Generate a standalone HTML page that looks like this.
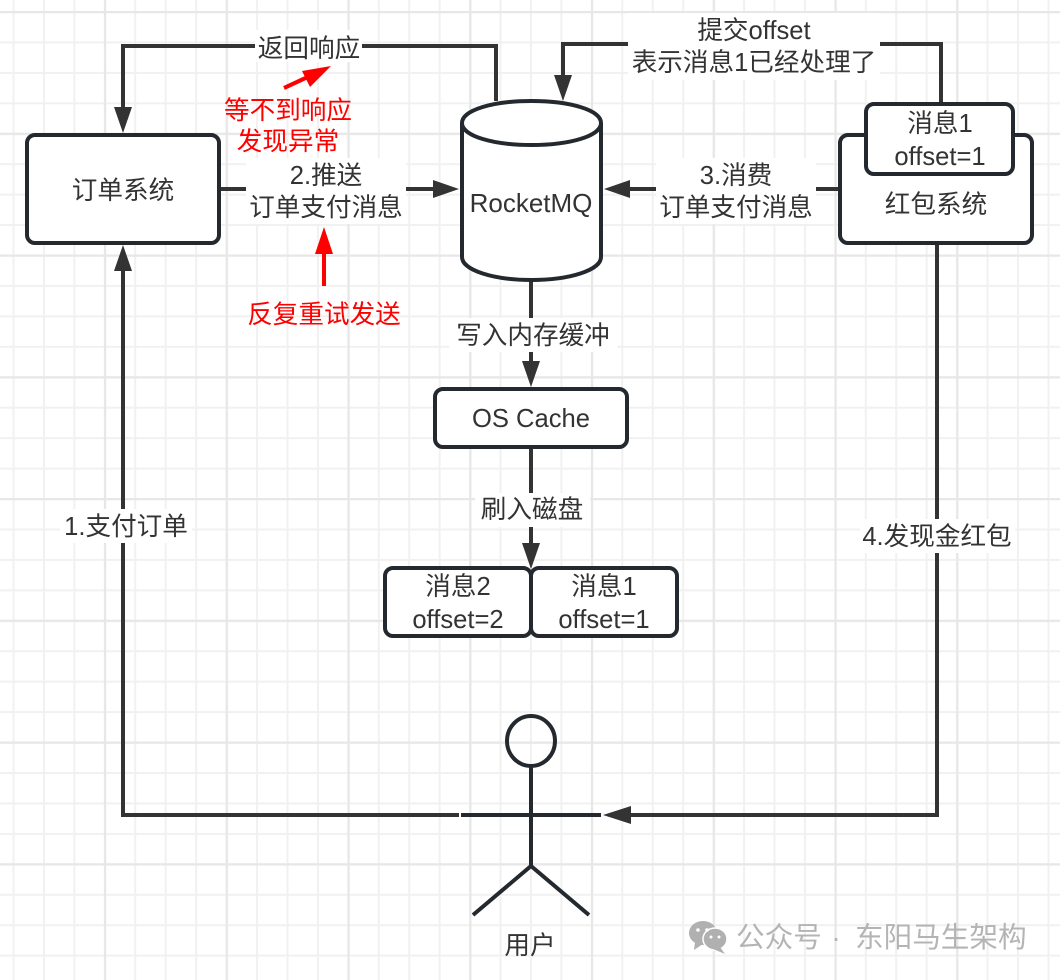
<!DOCTYPE html>
<html lang="zh"><head><meta charset="utf-8"><title>RocketMQ</title>
<style>
html,body{margin:0;padding:0;background:#fff}
svg{display:block}
text{font-family:"Liberation Sans","Noto Sans CJK SC",sans-serif;font-size:25.6px;fill:#333;text-anchor:middle}
.r{fill:#f00}
.b{fill:#fff;stroke:#23292e;stroke-width:4}
.l{fill:none;stroke:#333;stroke-width:4}
.w{fill:#fff;stroke:none}
.h{fill:#333;stroke:none}
.a{fill:none;stroke:#23292e;stroke-width:4}
</style></head><body>
<svg width="1060" height="980" viewBox="0 0 1060 980" xmlns="http://www.w3.org/2000/svg">
<defs>
<pattern id="m" x="12.5" y="11" width="30.44" height="30.44" patternUnits="userSpaceOnUse"><path d="M1 0V30.44M0 1H30.44" fill="none" stroke="#f1f1f1" stroke-width="2"/></pattern>
<pattern id="g" x="104" y="11" width="121.75" height="121.75" patternUnits="userSpaceOnUse"><path d="M1 0V121.75M0 1H121.75" fill="none" stroke="#e7e7e7" stroke-width="2.400"/></pattern>
</defs>
<rect width="1060" height="980" fill="#fff"/>
<rect width="1060" height="980" fill="url(#m)"/>
<rect width="1060" height="980" fill="url(#g)"/>

<!-- connectors -->
<path class="l" d="M496 101V46H123V110"/>
<polygon class="h" points="114,107 132,107 123,133"/>
<path class="l" d="M941 104V44H563V78"/>
<polygon class="h" points="554,75 572,75 563,101"/>
<path class="l" d="M221 189H436"/>
<polygon class="h" points="433,180 433,198 459,189"/>
<path class="l" d="M839 189H628"/>
<polygon class="h" points="630,180 630,198 604,189"/>
<path class="l" d="M531 281V364"/>
<polygon class="h" points="522,361 540,361 531,387"/>
<path class="l" d="M531 447V546"/>
<polygon class="h" points="522,543 540,543 531,569"/>
<path class="l" d="M459 815H123V268"/>
<polygon class="h" points="114,271 132,271 123,245"/>
<path class="l" d="M937 243V815H628"/>
<polygon class="h" points="631,806 631,824 603,815"/>

<!-- label backgrounds -->
<rect class="w" x="255" y="30" width="107" height="32"/>
<rect class="w" x="628" y="13" width="252" height="67"/>
<rect class="w" x="246" y="158" width="160" height="66"/>
<rect class="w" x="656" y="158" width="160" height="66"/>
<rect class="w" x="449" y="318" width="168" height="34"/>
<rect class="w" x="475" y="493" width="115" height="34"/>
<rect class="w" x="60" y="509" width="132" height="34"/>
<rect class="w" x="860" y="519" width="155" height="34"/>

<!-- nodes -->
<rect class="b" x="27" y="135" width="192" height="108" rx="8"/>
<path class="b" d="M462 123C462 110 493 101 531.500 101C570 101 601 110 601 123V257C601 270 570 280 531.500 280C493 280 462 270 462 257Z"/>
<path class="a" d="M462 123C462 136 493 145 531.500 145C570 145 601 136 601 123"/>
<rect class="b" x="840" y="135" width="192" height="108" rx="8"/>
<rect class="b" x="866" y="104" width="147" height="70" rx="8"/>
<rect class="b" x="435" y="389" width="192" height="58" rx="8"/>
<rect class="b" x="385" y="568" width="146" height="68" rx="8"/>
<rect class="b" x="531" y="568" width="146" height="68" rx="8"/>

<!-- actor -->
<ellipse class="a" cx="531" cy="741" rx="24" ry="25" fill="#fff"/>
<path class="a" d="M531 766V866M461 815H601M473 915L531 866L589 915"/>
<rect x="459" y="812" width="2" height="6" fill="#fff"/>

<!-- red arrows -->
<path d="M284 88L312 75" fill="none" stroke="#f00" stroke-width="4"/>
<polygon points="331,66 302,71 310,87" fill="#f00"/>
<path d="M324 286V250" fill="none" stroke="#f00" stroke-width="4"/>
<polygon points="315,254 333,254 324,227" fill="#f00"/>

<!-- text -->
<text x="309" y="57">返回响应</text>
<text x="754" y="39">提交offset</text>
<text x="754" y="71">表示消息1已经处理了</text>
<text x="326" y="184">2.推送</text>
<text x="326" y="216">订单支付消息</text>
<text x="736" y="184">3.消费</text>
<text x="736" y="216">订单支付消息</text>
<text x="123" y="199">订单系统</text>
<text x="531" y="212" style="font-size:26px">RocketMQ</text>
<text x="936" y="213">红包系统</text>
<text x="940" y="132">消息1</text>
<text x="940" y="165">offset=1</text>
<text x="533" y="344">写入内存缓冲</text>
<text x="531" y="427">OS Cache</text>
<text x="532" y="518">刷入磁盘</text>
<text x="458" y="595">消息2</text>
<text x="458" y="628">offset=2</text>
<text x="604" y="595">消息1</text>
<text x="604" y="628">offset=1</text>
<text x="126" y="535">1.支付订单</text>
<text x="937" y="545">4.发现金红包</text>
<text x="530" y="954">用户</text>
<text class="r" x="288" y="119">等不到响应</text>
<text class="r" x="288" y="150">发现异常</text>
<text class="r" x="324" y="323">反复重试发送</text>

<!-- watermark -->
<g fill="#b0b0b0">
<ellipse cx="703" cy="933" rx="14" ry="12"/>
<polygon points="695,942 694,950 703,944"/>
<ellipse cx="715" cy="939" rx="12" ry="11" stroke="#fff" stroke-width="1.500"/>
<polygon points="720,947 725,954 713,949"/>
</g>
<g fill="#fff"><circle cx="698" cy="930" r="1.800"/><circle cx="707" cy="930" r="1.800"/><circle cx="711" cy="937" r="1.500"/><circle cx="719" cy="937" r="1.500"/></g>
<text x="736" y="947" style="font-size:28.600px;fill:#b4b4b4;text-anchor:start">公众号</text>
<text x="836" y="947" style="font-size:28px;fill:#b4b4b4">·</text>
<text x="855" y="947" style="font-size:28.600px;fill:#b4b4b4;text-anchor:start">东阳马生架构</text>
</svg>
</body></html>
